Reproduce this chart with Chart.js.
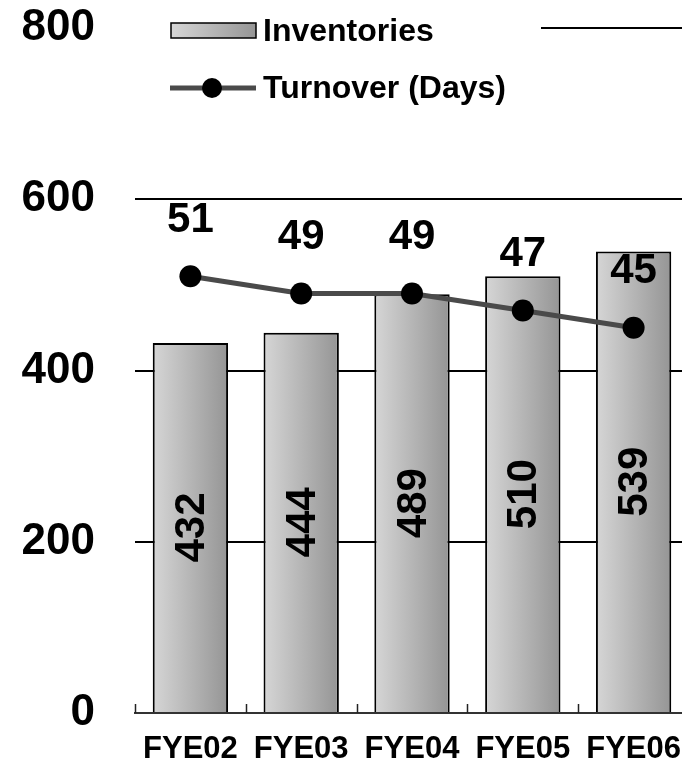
<!DOCTYPE html>
<html>
<head>
<meta charset="utf-8">
<script src="https://cdn.jsdelivr.net/npm/chart.js@4.4.0/dist/chart.umd.min.js"></script>
<style>
  html, body { margin: 0; padding: 0; background: #fff; overflow: hidden; }
  #wrap { width: 700px; height: 763px; }
</style>
</head>
<body>
<div id="wrap"><canvas id="invChart" width="700" height="763"></canvas></div>
<script>
const categories = ['FYE02', 'FYE03', 'FYE04', 'FYE05', 'FYE06'];
const inventories = [432, 444, 489, 510, 539];
const turnoverDays = [51, 49, 49, 47, 45];
const yTicks = [0, 200, 400, 600, 800];

const FONT = "'Liberation Sans', Arial, sans-serif";
const BAR_PCT = 0.68;

function barGradient(ctx, left, right) {
    const g = ctx.createLinearGradient(left, 0, right, 0);
    g.addColorStop(0, '#d6d6d6');
    g.addColorStop(1, '#959595');
    return g;
}

// legend box drawn over the top gridline, like the original
const legendPlugin = {
    id: 'legendBox',
    afterDraw(chart) {
        const ctx = chart.ctx;
        ctx.save();
        ctx.fillStyle = '#fff';
        ctx.fillRect(chart.chartArea.left, 8, 406, 105);

        // bar swatch
        ctx.fillStyle = barGradient(ctx, 171, 256);
        ctx.fillRect(171, 23, 85, 15);
        ctx.strokeStyle = '#000';
        ctx.lineWidth = 1.5;
        ctx.strokeRect(171, 23, 85, 15);

        // line swatch
        ctx.strokeStyle = '#4a4a4a';
        ctx.lineWidth = 5;
        ctx.beginPath();
        ctx.moveTo(170, 88);
        ctx.lineTo(256, 88);
        ctx.stroke();
        ctx.fillStyle = '#000';
        ctx.beginPath();
        ctx.arc(212, 88, 10, 0, Math.PI * 2);
        ctx.fill();

        ctx.font = 'bold 32px ' + FONT;
        ctx.textBaseline = 'middle';
        ctx.textAlign = 'left';
        ctx.fillText('Inventories', 263, 32);
        ctx.fillText('Turnover (Days)', 263, 89);
        ctx.restore();
    }
};

// upward tick marks at category boundaries + value labels
const extrasPlugin = {
    id: 'extras',
    afterDatasetsDraw(chart) {
        const ctx = chart.ctx;
        const area = chart.chartArea;
        ctx.save();

        ctx.strokeStyle = '#222';
        ctx.lineWidth = 1.5;
        const step = (area.right - area.left) / categories.length;
        for (let i = 0; i <= categories.length; i++) {
            const x = Math.round(area.left + i * step) + 0.5;
            ctx.beginPath();
            ctx.moveTo(x, area.bottom);
            ctx.lineTo(x, area.bottom - 9);
            ctx.stroke();
        }

        ctx.fillStyle = '#000';
        ctx.textAlign = 'center';
        ctx.textBaseline = 'middle';

        // rotated labels inside the bars
        ctx.font = 'bold 42px ' + FONT;
        chart.getDatasetMeta(0).data.forEach((bar, i) => {
            const cy = (bar.y + bar.base) / 2;
            ctx.save();
            ctx.translate(bar.x, cy);
            ctx.rotate(-Math.PI / 2);
            ctx.fillText(String(inventories[i]), 0, 2);
            ctx.restore();
        });

        // labels above the turnover points
        ctx.font = 'bold 42px ' + FONT;
        chart.getDatasetMeta(1).data.forEach((pt, i) => {
            ctx.fillText(String(turnoverDays[i]), pt.x, pt.y - 56);
        });
        ctx.restore();
    }
};

const ctx = document.getElementById('invChart').getContext('2d');

new Chart(ctx, {
    data: {
        labels: categories,
        datasets: [
            {
                type: 'bar',
                label: 'Inventories',
                data: inventories,
                yAxisID: 'y',
                order: 2,
                backgroundColor: function (context) {
                    const chart = context.chart;
                    const xs = chart.scales.x;
                    if (!chart.chartArea || !xs || context.dataIndex === undefined) return '#bbb';
                    const cx = xs.getPixelForValue(context.dataIndex);
                    const half = (chart.chartArea.width / categories.length) * BAR_PCT / 2;
                    if (!Number.isFinite(cx) || !Number.isFinite(half)) return '#bbb';
                    return barGradient(chart.ctx, cx - half, cx + half);
                },
                borderColor: '#000',
                borderWidth: 2,
                borderSkipped: 'bottom',
                categoryPercentage: 1,
                barPercentage: BAR_PCT
            },
            {
                type: 'line',
                label: 'Turnover (Days)',
                data: turnoverDays,
                yAxisID: 'y1',
                order: 1,
                borderColor: '#4a4a4a',
                borderWidth: 5,
                pointRadius: 11,
                pointBackgroundColor: '#000',
                pointBorderColor: '#000',
                pointBorderWidth: 0,
                tension: 0
            }
        ]
    },
    options: {
        responsive: false,
        animation: false,
        layout: { padding: { top: 28, left: 0, right: 0, bottom: 0 } },
        plugins: {
            legend: { display: false },
            tooltip: { enabled: false }
        },
        scales: {
            x: {
                grid: { display: false, drawTicks: false },
                border: { display: true, color: '#333', width: 2 },
                ticks: {
                    color: '#000',
                    padding: 18,
                    font: { family: FONT, size: 31, weight: 'bold' }
                },
                afterFit(scale) {
                    scale.height = 50;
                    scale.paddingLeft = 0;
                    scale.paddingRight = 0;
                }
            },
            y: {
                min: 0,
                max: 800,
                afterBuildTicks(scale) {
                    scale.ticks = yTicks.map(v => ({ value: v }));
                },
                grid: { color: '#000', lineWidth: 2, drawTicks: false },
                border: { display: false },
                ticks: {
                    color: '#000',
                    padding: 40,
                    font: { family: FONT, size: 44, weight: 'bold' }
                },
                afterFit(scale) {
                    scale.width = 135;
                    scale.paddingTop = 0;
                    scale.paddingBottom = 0;
                }
            },
            y1: {
                display: false,
                min: 0,
                max: 80
            }
        }
    },
    plugins: [extrasPlugin, legendPlugin]
});
</script>
</body>
</html>
